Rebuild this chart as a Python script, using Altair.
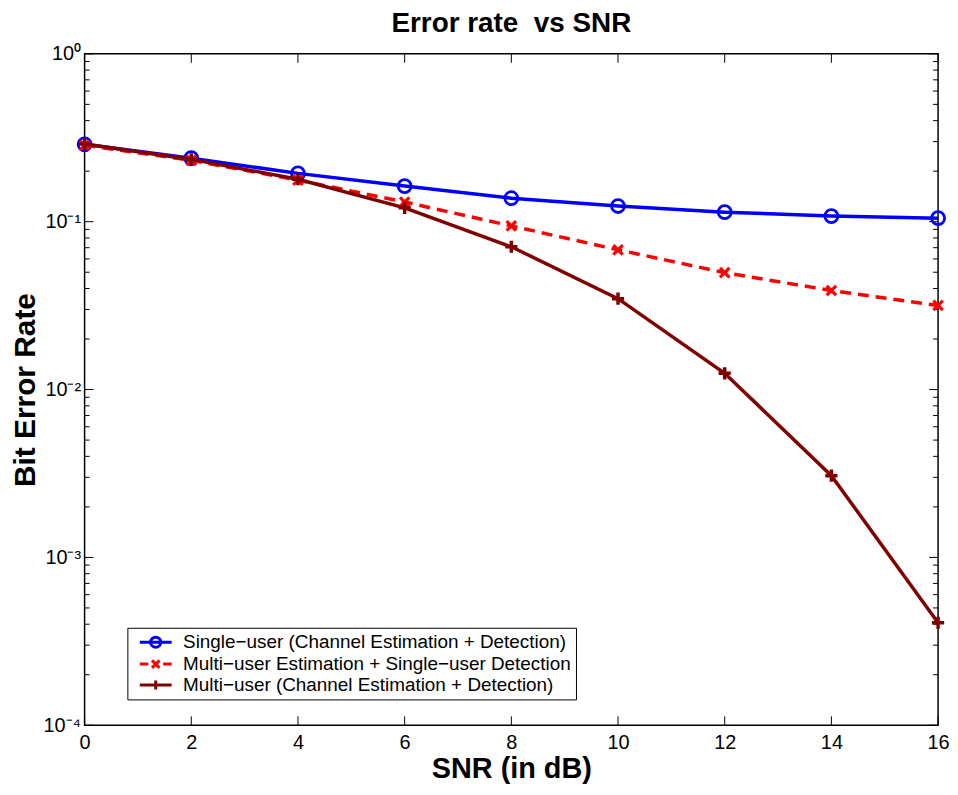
import altair as alt
import pandas as pd

# ---- data ----
snr = [0, 2, 4, 6, 8, 10, 12, 14, 16]
ber_single = [0.289, 0.239, 0.194, 0.163, 0.138, 0.124, 0.114, 0.108, 0.105]
ber_mu_est = [0.285, 0.232, 0.177, 0.131, 0.0944, 0.068, 0.0497, 0.0389, 0.0317]
ber_multi = [0.290, 0.235, 0.179, 0.121, 0.0709, 0.0348, 0.0125, 0.00307, 0.000408]

series_names = [
    "Single\u2212user (Channel Estimation + Detection)",
    "Multi\u2212user Estimation + Single\u2212user Detection",
    "Multi\u2212user (Channel Estimation + Detection)",
]
series_colors = ["#0000FF", "#FF0000", "#800000"]

x_ticks = [0, 2, 4, 6, 8, 10, 12, 14, 16]
y_major = [1e-4, 1e-3, 1e-2, 1e-1, 1e0]
y_labels = ["10\u207b\u2074", "10\u207b\u00b3", "10\u207b\u00b2", "10\u207b\u00b9", "10\u2070"]
y_minor = [m * d for d in [1e-4, 1e-3, 1e-2, 1e-1] for m in range(2, 10)]

W, H = 858, 675
FONT = "Liberation Sans"

xscale = alt.Scale(domain=[0, 16], nice=False, zero=False)
yscale = alt.Scale(type="log", domain=[1e-4, 1], nice=False)

def df_for(vals, name):
    return pd.DataFrame({"snr": snr, "ber": vals, "series": name})

label_expr = "[" + ",".join("'" + s + "'" for s in y_labels) + "][round(log(datum.value)/LN10)+4]"

x_axis = alt.Axis(values=x_ticks, ticks=False, domain=False, grid=False,
                  labelFontSize=20, labelPadding=7, labelFlush=False,
                  title="SNR (in dB)", titleFontSize=29, titlePadding=3, format="d")
y_axis = alt.Axis(values=y_major, ticks=False, domain=False, grid=False,
                  labelExpr=label_expr, labelFontSize=20, labelPadding=4, labelFlush=False,
                  title="Bit Error Rate", titleFontSize=30, titlePadding=3)

layers = []

# series lines + markers
line_specs = [
    (ber_single, series_names[0], series_colors[0], None,
     dict(shape="circle", size=170, filled=False, strokeWidth=2.8)),
    (ber_mu_est, series_names[1], series_colors[1], [11, 7],
     dict(shape="M-1,-1L1,1M-1,1L1,-1", size=90, filled=False, strokeWidth=3.2)),
    (ber_multi, series_names[2], series_colors[2], None,
     dict(shape="M-1,0H1M0,-1V1", size=150, filled=False, strokeWidth=3.5)),
]

for vals, name, col, dash, pt in line_specs:
    d = df_for(vals, name)
    lkw = dict(color=col, strokeWidth=3.5)
    if dash:
        lkw["strokeDash"] = dash
    line = alt.Chart(d).mark_line(**lkw).encode(
        x=alt.X("snr:Q", scale=xscale, axis=x_axis),
        y=alt.Y("ber:Q", scale=yscale, axis=y_axis))
    pts = alt.Chart(d).mark_point(color=col, opacity=1, **pt).encode(
        x=alt.X("snr:Q", scale=xscale, axis=x_axis),
        y=alt.Y("ber:Q", scale=yscale, axis=y_axis))
    layers += [line, pts]

# tick marks (inward) drawn as rules
ymaj_df = pd.DataFrame({"v": y_major})
ymin_df = pd.DataFrame({"v": y_minor})
xt_df = pd.DataFrame({"v": x_ticks})

def yrule(df, x0, x1):
    return alt.Chart(df).mark_rule(color="black", strokeWidth=1).encode(
        y=alt.Y("v:Q", scale=yscale, axis=y_axis),
        x=alt.value(x0), x2=alt.value(x1))

def xrule(y0, y1):
    return alt.Chart(xt_df).mark_rule(color="black", strokeWidth=1).encode(
        x=alt.X("v:Q", scale=xscale, axis=x_axis),
        y=alt.value(y0), y2=alt.value(y1))

layers = [yrule(ymaj_df, 0, 9), yrule(ymaj_df, W - 9, W),
          yrule(ymin_df, 0, 5), yrule(ymin_df, W - 5, W),
          xrule(H - 9, H), xrule(0, 9)] + layers

# legend layer (no visible data; only provides the legend)
legend_paths = [
    "M-1.78,0H1.78M-0.56,0A0.56,0.56 0 1,0 0.56,0A0.56,0.56 0 1,0 -0.56,0",
    "M-1.78,0H-0.83M0.83,0H1.78M-0.42,-0.42L0.42,0.42M-0.42,0.42L0.42,-0.42",
    "M-1.78,0H1.78M0,-0.5V0.5",
]
leg_kw = dict(title=None, orient="none", legendX=43, legendY=577,
              direction="vertical", strokeColor="black", fillColor="white",
              padding=4, symbolSize=324, symbolStrokeWidth=3,
              symbolFillColor="transparent", labelFont=FONT, labelFontSize=19,
              labelColor="black", rowPadding=0, symbolOffset=14, labelOffset=17,
              labelLimit=600, symbolOpacity=1)
leg_df = pd.DataFrame({"series": series_names, "snr": [0] * 3, "ber": [0.5] * 3})
legend_layer = alt.Chart(leg_df).transform_filter("false").mark_point(filled=False).encode(
    x=alt.X("snr:Q", scale=xscale, axis=x_axis),
    y=alt.Y("ber:Q", scale=yscale, axis=y_axis),
    shape=alt.Shape("series:N", scale=alt.Scale(domain=series_names, range=legend_paths),
                    legend=alt.Legend(**leg_kw)),
    stroke=alt.Stroke("series:N", scale=alt.Scale(domain=series_names, range=series_colors),
                      legend=alt.Legend(**leg_kw)),
)
layers.append(legend_layer)

chart = alt.layer(*layers).properties(
    width=W, height=H,
    title=alt.Title("Error rate\u00a0 vs SNR", font=FONT, fontSize=28, fontWeight="bold",
                    color="black", anchor="middle", offset=6),
    autosize=alt.AutoSizeParams(type="none"),
    padding={"left": 77, "top": 44, "right": 12, "bottom": 65},
).configure(background="white").configure_view(
    stroke="black", strokeWidth=1.5
).configure_axis(
    labelFont=FONT, labelFontSize=20, labelColor="black",
    titleFont=FONT, titleFontWeight="bold", titleColor="black",
)

chart.save("out.html", embed_options={"renderer": "svg", "actions": False})
